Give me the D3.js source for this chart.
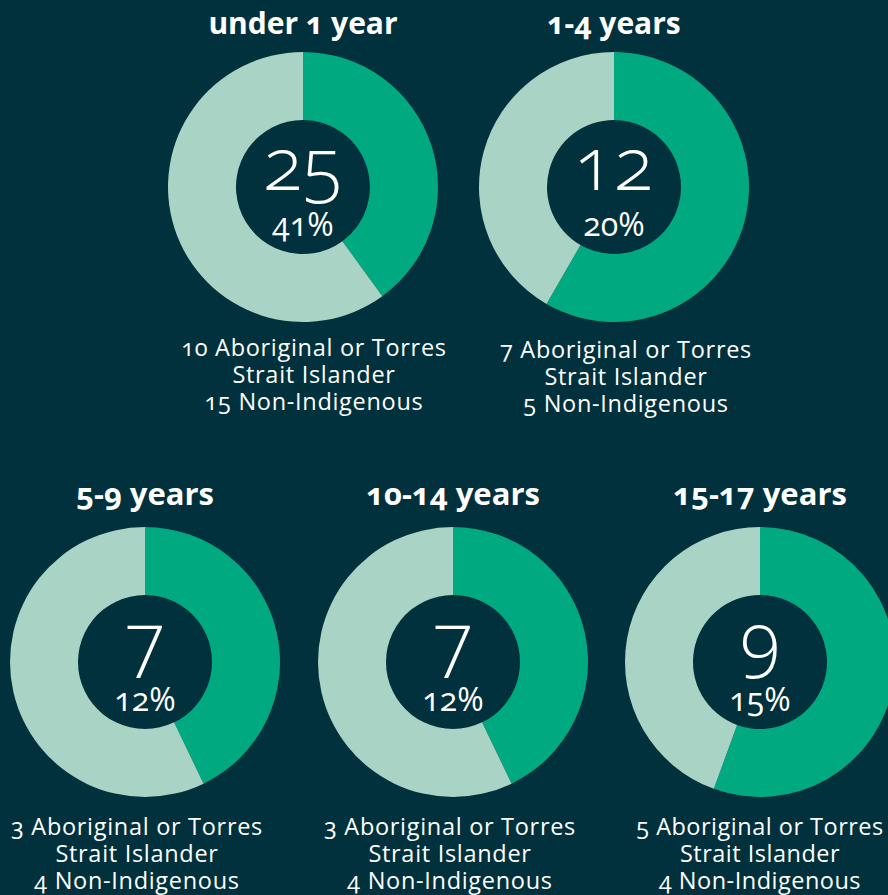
<!DOCTYPE html>
<html>
<head>
<meta charset="utf-8">
<script src="https://cdn.jsdelivr.net/npm/d3@7"></script>
<style>
  body { margin: 0; background: #01313c; overflow: hidden; }
  text { font-family: "Open Sans", "Noto Sans", sans-serif; fill: #ffffff; font-feature-settings: "onum"; }
</style>
</head>
<body>
<div id="vis"></div>
<script>
// Data
let groups = ['under 1 year', '1-4 years', '5-9 years', '10-14 years', '15-17 years'];
let aboriginal = [10, 7, 3, 3, 5];
let nonIndigenous = [15, 5, 4, 4, 4];
let percents = ['41%', '20%', '12%', '12%', '15%'];

let width = 888, height = 895;

let svg = d3.select('#vis')
  .append('svg')
  .attr('width', width)
  .attr('height', height);

// positions of each donut, and how far each caption sits off centre
let centers = [[303, 187], [614, 187], [145, 662], [453, 662], [760, 662]];
let capShift = [11, 12, -8, -3, 0];
let outerR = 135, innerR = 67;

let color = d3.scaleOrdinal()
  .domain(['aboriginal', 'non'])
  .range(['#00a97f', '#a8d3c5']);

let pie = d3.pie()
  .sort(null)
  .value(function(d) { return d.value; });

let arc = d3.arc()
  .innerRadius(innerR)
  .outerRadius(outerR);

groups.forEach(function(g, i) {
  let total = aboriginal[i] + nonIndigenous[i];
  let parts = [
    { key: 'aboriginal', value: aboriginal[i] },
    { key: 'non', value: nonIndigenous[i] }
  ];

  let cx = centers[i][0], cy = centers[i][1];
  let grp = svg.append('g')
    .attr('transform', `translate(${cx},${cy})`);

  grp.selectAll('path')
    .data(pie(parts))
    .enter()
    .append('path')
      .attr('d', arc)
      .attr('fill', function(d) { return color(d.data.key); });

  // title
  grp.append('text')
    .attr('y', i < 2 ? -153 : -157)
    .attr('text-anchor', 'middle')
    .style('font-size', i < 2 ? '30px' : '31px')
    .style('font-weight', 'bold')
    .text(g);

  // centre number + percent in one text
  let mid = grp.append('text')
    .attr('y', 3)
    .attr('text-anchor', 'middle');
  mid.append('tspan')
    .attr('x', 0)
    .style('font-size', '74px')
    .style('font-weight', '300')
    .text(total);
  mid.append('tspan')
    .attr('x', 0)
    .attr('dy', 46)
    .style('font-size', '32px')
    .style('font-weight', '400')
    .text(percents[i]);

  // caption, one text with three lines
  let lines = [
    aboriginal[i] + ' Aboriginal or Torres',
    'Strait Islander',
    nonIndigenous[i] + ' Non-Indigenous'
  ];
  let y0 = i == 0 ? 169 : (i == 1 ? 171 : 173);
  grp.append('text')
    .attr('y', y0)
    .attr('text-anchor', 'middle')
    .style('font-size', '23.5px')
    .style('letter-spacing', i == 4 ? '0.5px' : '0.7px')
    .selectAll('tspan')
    .data(lines)
    .enter()
    .append('tspan')
      .attr('x', capShift[i])
      .attr('dy', function(d, j) { return j == 0 ? 0 : 27; })
      .text(function(d) { return d; });
});
</script>
</body>
</html>
